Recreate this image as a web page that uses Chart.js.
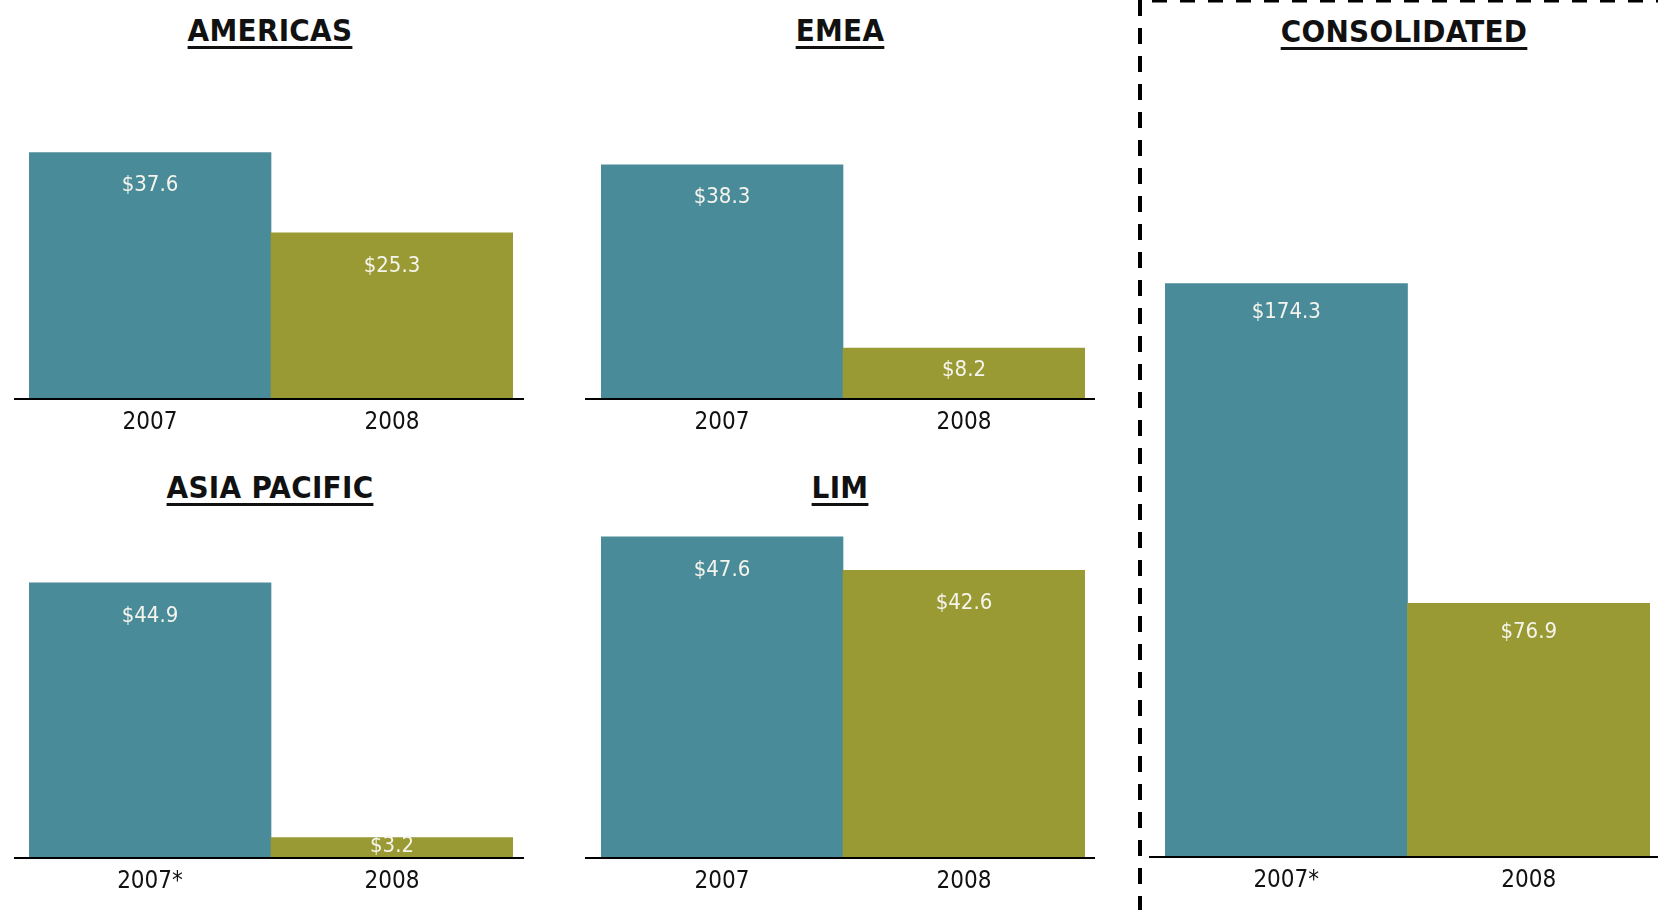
<!DOCTYPE html>
<html>
<head>
<meta charset="utf-8">
<script src="https://cdn.jsdelivr.net/npm/chart.js@4.4.1/dist/chart.umd.min.js"></script>
<style>
  body { margin: 0; background: #fff; width: 1658px; height: 910px; overflow: hidden; position: relative; }
  canvas { position: absolute; }
  .title {
    position: absolute; width: 400px; text-align: center;
    font-family: "DejaVu Sans Condensed", "Liberation Sans Narrow", sans-serif;
    font-weight: bold; font-size: 31px; line-height: 33px; letter-spacing: 0.3px; color: #111;
    text-decoration: underline; text-decoration-thickness: 3px; text-underline-offset: 5px;
  }
  #divider { position: absolute; left: 0; top: 0; }
</style>
</head>
<body>
<div class="title" style="left:70px;top:14px">AMERICAS</div>
<div class="title" style="left:640px;top:14px">EMEA</div>
<div class="title" style="left:70px;top:471px">ASIA PACIFIC</div>
<div class="title" style="left:640px;top:471px">LIM</div>
<div class="title" style="left:1204px;top:15px">CONSOLIDATED</div>

<svg id="divider" width="1658" height="910">
  <line x1="1140" y1="0" x2="1140" y2="910" stroke="#000" stroke-width="4" stroke-dasharray="16 12"/>
  <line x1="1152" y1="1" x2="1658" y2="1" stroke="#000" stroke-width="3" stroke-dasharray="15 13"/>
</svg>

<canvas id="americas" width="510" height="382" style="left:14px;top:60px"></canvas>
<canvas id="emea" width="510" height="382" style="left:585px;top:60px"></canvas>
<canvas id="asia" width="510" height="381" style="left:14px;top:520px"></canvas>
<canvas id="lim" width="510" height="381" style="left:585px;top:520px"></canvas>
<canvas id="consolidated" width="509" height="830" style="left:1149px;top:70px"></canvas>

<script>
// net income by region, $ millions
const years = ['2007', '2008'];
const yearsStar = ['2007*', '2008'];
const americas = [37.6, 25.3];
const emea = [38.3, 8.2];
const asiaPacific = [44.9, 3.2];
const lim = [47.6, 42.6];
const consolidated = [174.3, 76.9];
const barColors = ['#4a8b9a', '#9a9a34'];

const fontFamily = '"DejaVu Sans Condensed", "Liberation Sans Narrow", sans-serif';

// black base line running a bit past the bars
const baseLine = {
    id: 'baseLine',
    afterDatasetsDraw(chart) {
        const ctx = chart.ctx;
        const y = chart.scales.y.getPixelForValue(0);
        ctx.save();
        ctx.fillStyle = '#000';
        ctx.fillRect(0, Math.round(y), chart.width, 2);
        ctx.restore();
    }
};

// "$xx.x" inside the top of each bar
const valueLabels = {
    id: 'valueLabels',
    afterDatasetsDraw(chart, args, opts) {
        const ctx = chart.ctx;
        const meta = chart.getDatasetMeta(0);
        const data = chart.data.datasets[0].data;
        ctx.save();
        ctx.font = '22px ' + fontFamily;
        ctx.fillStyle = '#f4f4ec';
        ctx.textAlign = 'center';
        ctx.textBaseline = 'middle';
        meta.data.forEach((bar, i) => {
            const h = bar.base - bar.y;
            ctx.fillText('$' + data[i].toFixed(1), bar.x, bar.y + Math.min(opts.offset, h * 0.45));
        });
        ctx.restore();
    }
};

function makePanel(id, labels, values, yMax, padLeft, padRight, labelOffset) {
    const ctx = document.getElementById(id).getContext('2d');
    return new Chart(ctx, {
        type: 'bar',
        data: {
            labels: labels,
            datasets: [{
                data: values,
                backgroundColor: barColors,
                borderWidth: 0,
                barPercentage: 1,
                categoryPercentage: 1
            }]
        },
        options: {
            responsive: false,
            animation: false,
            devicePixelRatio: 1,
            layout: { padding: { left: padLeft, right: padRight, top: 0, bottom: 0 } },
            plugins: {
                legend: { display: false },
                tooltip: { enabled: false },
                valueLabels: { offset: labelOffset }
            },
            scales: {
                x: {
                    grid: { display: false },
                    border: { display: false },
                    ticks: { color: '#111', padding: 2, font: { family: fontFamily, size: 24 } },
                    afterFit: s => { s.height = 44; }
                },
                y: { display: false, min: 0, max: yMax }
            }
        },
        plugins: [baseLine, valueLabels]
    });
}

makePanel('americas', years, americas, 51.8, 15, 11, 33);
makePanel('emea', years, emea, 55.5, 16, 10, 33);
makePanel('asia', yearsStar, asiaPacific, 55.2, 15, 11, 33);
makePanel('lim', years, lim, 50.1, 16, 10, 33);
makePanel('consolidated', yearsStar, consolidated, 239.3, 16, 8, 29);
</script>
</body>
</html>
